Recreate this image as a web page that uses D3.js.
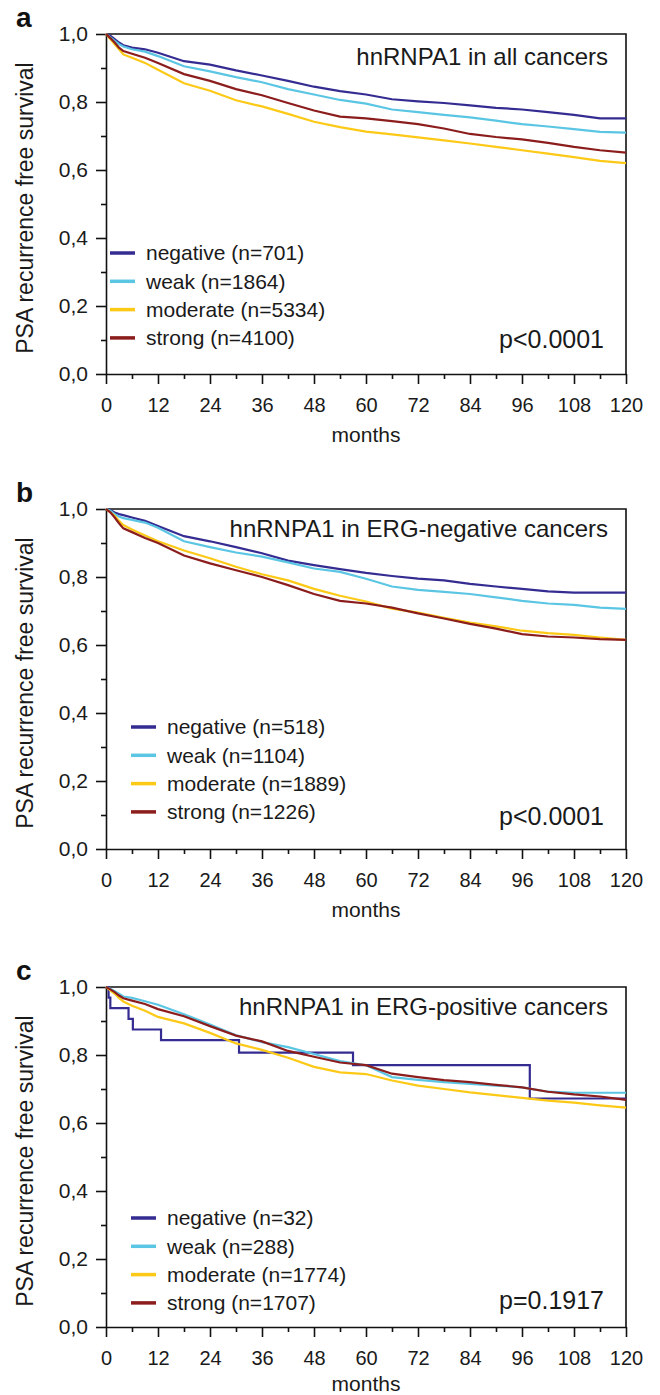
<!DOCTYPE html>
<html>
<head>
<meta charset="utf-8">
<script src="https://cdn.jsdelivr.net/npm/d3@7"></script>
<style>
  body { margin: 0; background: #fff; }
  svg { display: block; font-family: "Liberation Sans", Arial, sans-serif; }
</style>
</head>
<body>
<div class="chart"></div>
<script>
// follow-up time grid (months) shared by the large groups
const months = [0, 1, 2, 3, 4, 6, 9, 12, 18, 24, 30, 36, 42, 48, 54, 60, 66, 72, 78, 84, 90, 96, 102, 108, 114, 120]

const groups = ['negative', 'weak', 'moderate', 'strong']
const groupColors = ['#352c92', '#5bc6e3', '#fcc916', '#8c1d1d']

const panelLetters = ['a', 'b', 'c']
const panelTitles = ['hnRNPA1 in all cancers', 'hnRNPA1 in ERG-negative cancers', 'hnRNPA1 in ERG-positive cancers']
const pValues = ['p<0.0001', 'p<0.0001', 'p=0.1917']

const countsAll = [701, 1864, 5334, 4100]
const countsErgNeg = [518, 1104, 1889, 1226]
const countsErgPos = [32, 288, 1774, 1707]

// a: all cancers
const allNegative = [1, .995, .985, .975, .967, .96, .955, .945, .92, .91, .893, .878, .862, .845, .832, .822, .808, .802, .797, .79, .783, .778, .77, .762, .752, .752]
const allWeak = [1, .99, .98, .97, .963, .955, .948, .935, .905, .89, .873, .858, .838, .822, .806, .795, .778, .77, .762, .755, .745, .735, .728, .72, .712, .71]
const allModerate = [1, .985, .97, .955, .94, .93, .915, .895, .855, .833, .805, .787, .765, .742, .726, .713, .705, .696, .687, .678, .668, .658, .648, .638, .627, .62]
const allStrong = [1, .988, .975, .96, .95, .942, .93, .915, .882, .862, .838, .82, .797, .775, .757, .752, .744, .735, .722, .706, .697, .69, .68, .668, .658, .651]

// b: ERG-negative cancers
const ergNegNegative = [1, .997, .99, .985, .982, .975, .965, .95, .92, .905, .888, .87, .848, .835, .823, .812, .803, .795, .79, .78, .772, .765, .758, .754, .754, .754]
const ergNegWeak = [1, .995, .985, .978, .973, .968, .96, .945, .905, .888, .872, .86, .843, .825, .815, .795, .772, .762, .756, .75, .74, .73, .722, .718, .71, .706]
const ergNegModerate = [1, .99, .98, .965, .953, .94, .922, .905, .878, .855, .83, .808, .79, .765, .745, .728, .707, .695, .68, .666, .655, .642, .635, .63, .622, .615]
const ergNegStrong = [1, .99, .975, .958, .943, .932, .915, .9, .863, .84, .82, .8, .776, .75, .73, .722, .71, .693, .678, .662, .648, .632, .625, .622, .617, .615]

// c: ERG-positive cancers (negative group is small, kept as its own steps)
const ergPosNegTimes = [0, 0.6, 1.0, 5.2, 6.2, 12.7, 30.7, 57, 97.8, 120]
const ergPosNegative = [1, .969, .938, .906, .875, .844, .807, .77, .672, .672]
const ergPosWeak = [1, .995, .988, .98, .972, .968, .958, .948, .92, .89, .858, .838, .823, .803, .782, .77, .735, .727, .72, .715, .71, .705, .692, .689, .689, .689]
const ergPosModerate = [1, .99, .98, .968, .957, .945, .93, .912, .893, .865, .834, .815, .792, .765, .749, .744, .725, .71, .7, .69, .682, .674, .666, .66, .652, .645]
const ergPosStrong = [1, .993, .985, .975, .967, .96, .95, .935, .914, .885, .857, .84, .812, .795, .778, .77, .745, .735, .726, .72, .712, .705, .692, .684, .678, .668]

const yTicks = [0, 0.2, 0.4, 0.6, 0.8, 1.0]
const yMinorTicks = [0.1, 0.3, 0.5, 0.7, 0.9]
const xTicks = [0, 12, 24, 36, 48, 60, 72, 84, 96, 108, 120]
const xMinorTicks = [6, 18, 30, 42, 54, 66, 78, 90, 102, 114]

const panels = [
  {
    counts: countsAll,
    series: [[months, allNegative], [months, allWeak], [months, allModerate], [months, allStrong]],
    steps: [false, false, false, false]
  },
  {
    counts: countsErgNeg,
    series: [[months, ergNegNegative], [months, ergNegWeak], [months, ergNegModerate], [months, ergNegStrong]],
    steps: [false, false, false, false]
  },
  {
    counts: countsErgPos,
    series: [[ergPosNegTimes, ergPosNegative], [months, ergPosWeak], [months, ergPosModerate], [months, ergPosStrong]],
    steps: [true, false, false, false]
  }
]

// layout
const width = 660
const height = 1395
const plotLeft = 106
const plotRight = 626
const plotH = 340
const panelTops = [34, 509, 987]
const titleDy = [31, 28, 28]
const legendDy = [219, 218, 231]
const legendX = [110, 131, 131]
const legendStep = 28.3
const pDy = [-26, -24, -18]
const monthsDy = [68, 68, 64]

const svg = d3.select('.chart')
  .append('svg')
  .attr('width', width)
  .attr('height', height)

const x = d3.scaleLinear().domain([0, 120]).range([plotLeft, plotRight])

panels.forEach((panel, p) => {
  const top = panelTops[p]
  const bottom = top + plotH
  const y = d3.scaleLinear().domain([0, 1]).range([bottom, top])
  const g = svg.append('g').attr('class', 'panel-' + panelLetters[p])

  // minor ticks
  g.append('g')
    .attr('transform', `translate(${plotLeft},0)`)
    .call(d3.axisLeft(y).tickValues(yMinorTicks).tickSize(5).tickFormat(''))
    .call(a => a.select('.domain').remove())
  g.append('g')
    .attr('transform', `translate(0,${bottom})`)
    .call(d3.axisBottom(x).tickValues(xMinorTicks).tickSize(5).tickFormat(''))
    .call(a => a.select('.domain').remove())

  // major axes
  const yAxis = g.append('g')
    .attr('transform', `translate(${plotLeft},0)`)
    .call(d3.axisLeft(y).tickValues(yTicks).tickSize(10).tickSizeOuter(0).tickPadding(8)
      .tickFormat(d => d3.format('.1f')(d).replace('.', ',')))
  yAxis.selectAll('text').attr('font-size', 21)

  const xAxis = g.append('g')
    .attr('transform', `translate(0,${bottom})`)
    .call(d3.axisBottom(x).tickValues(xTicks).tickSize(10).tickSizeOuter(0).tickPadding(14))
  xAxis.selectAll('text').attr('font-size', 20)

  g.selectAll('.tick line, .domain')
    .attr('stroke', '#111')
    .attr('stroke-width', 1.6)
  g.selectAll('.tick text')
    .attr('fill', '#1a1a1a')
    .attr('font-family', '"Liberation Sans", Arial, sans-serif')

  // frame top/right
  g.append('path')
    .attr('d', `M${plotLeft},${top}H${plotRight}V${bottom}`)
    .attr('fill', 'none')
    .attr('stroke', '#111')
    .attr('stroke-width', 1.6)

  // survival curves
  panel.series.forEach((s, i) => {
    const [times, values] = s
    const line = d3.line()
      .curve(panel.steps[i] ? d3.curveStepAfter : d3.curveLinear)
      .x((d, k) => x(times[k]))
      .y(d => y(d))
    g.append('path')
      .datum(values)
      .attr('d', line)
      .attr('fill', 'none')
      .attr('stroke', groupColors[i])
      .attr('stroke-width', 2.2)
  })

  // panel letter
  g.append('text')
    .attr('x', 16)
    .attr('y', top - 7)
    .attr('font-size', 28)
    .attr('font-weight', 'bold')
    .attr('fill', '#111')
    .text(panelLetters[p])

  // title
  g.append('text')
    .attr('x', 608)
    .attr('y', top + titleDy[p])
    .attr('text-anchor', 'end')
    .attr('font-size', 24)
    .attr('fill', '#1a1a1a')
    .text(panelTitles[p])

  // y label
  g.append('text')
    .attr('transform', `translate(33,${(top + bottom) / 2 + 4}) rotate(-90)`)
    .attr('text-anchor', 'middle')
    .attr('font-size', 23)
    .attr('fill', '#1a1a1a')
    .text('PSA recurrence free survival')

  // x label
  g.append('text')
    .attr('x', (plotLeft + plotRight) / 2)
    .attr('y', bottom + monthsDy[p])
    .attr('text-anchor', 'middle')
    .attr('font-size', 21)
    .attr('fill', '#1a1a1a')
    .text('months')

  // legend
  const legend = g.append('g')
    .attr('transform', `translate(${legendX[p]},${top + legendDy[p]})`)
  groups.forEach((name, i) => {
    const row = legend.append('g').attr('transform', `translate(0,${i * legendStep})`)
    row.append('line')
      .attr('x1', 0).attr('x2', 25)
      .attr('stroke', groupColors[i])
      .attr('stroke-width', 3.5)
    row.append('text')
      .attr('x', 36)
      .attr('dy', '0.35em')
      .attr('font-size', 21)
      .attr('fill', '#1a1a1a')
      .text(`${name} (n=${panel.counts[i]})`)
  })

  // p value
  g.append('text')
    .attr('x', 604)
    .attr('y', bottom + pDy[p])
    .attr('text-anchor', 'end')
    .attr('font-size', 25)
    .attr('fill', '#1a1a1a')
    .text(pValues[p])
})
</script>
</body>
</html>
